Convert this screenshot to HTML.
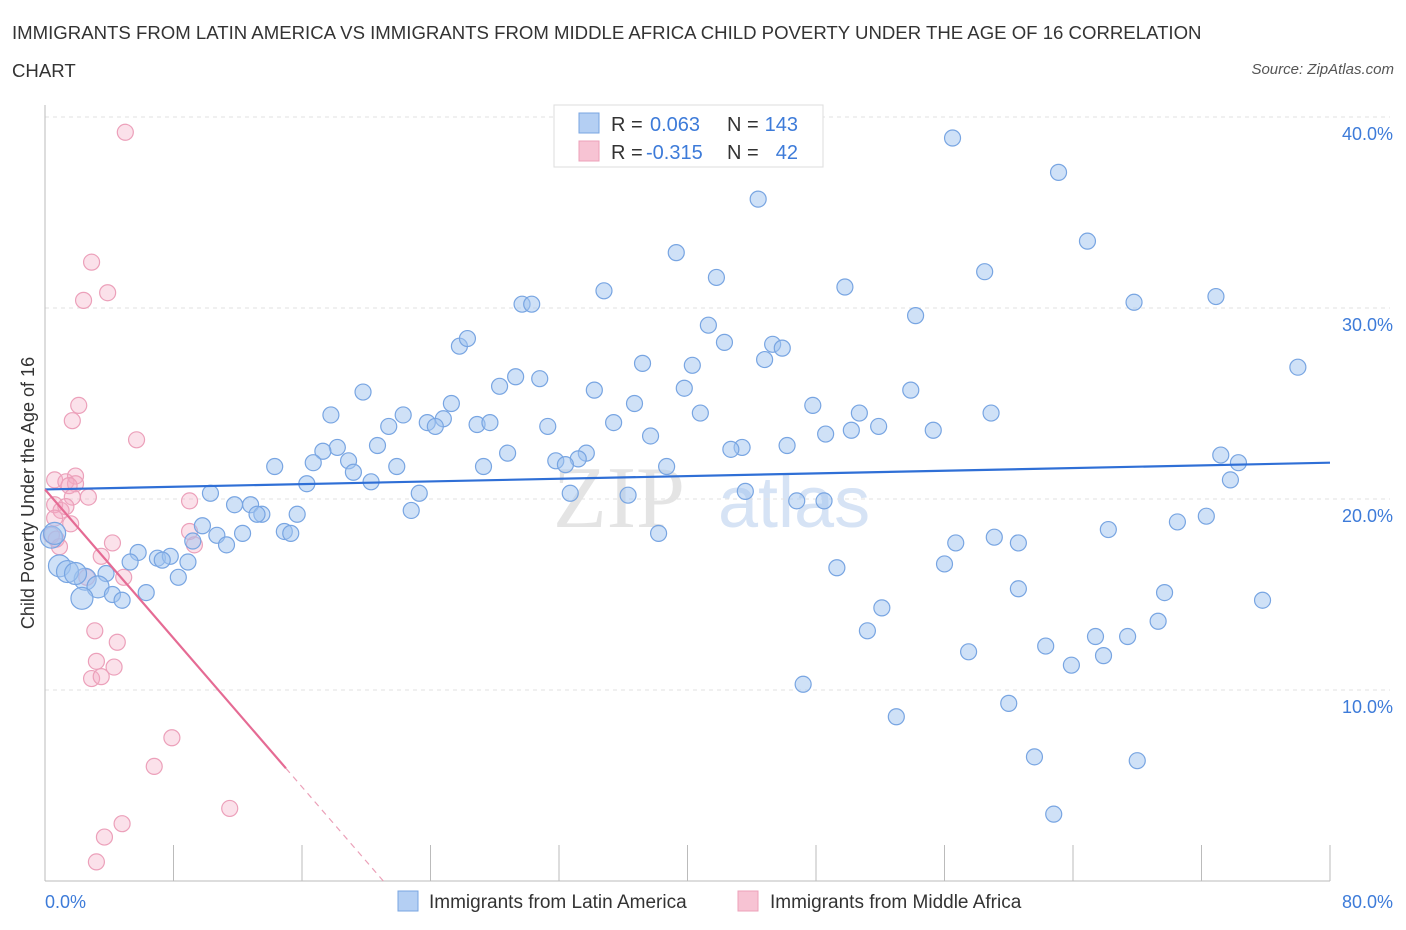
<!DOCTYPE html>
<html><head><meta charset="utf-8">
<style>
body{margin:0;background:#fff;font-family:"Liberation Sans",sans-serif;}
#wrap{position:relative;width:1406px;height:930px;overflow:hidden;}
.title{position:absolute;left:12px;top:14px;font-size:18.6px;color:#333;line-height:38px;width:1200px;}
.source{position:absolute;right:12px;top:61px;font-size:15px;color:#555;font-style:italic;}
</style></head><body>
<div id="wrap">
<div class="title">IMMIGRANTS FROM LATIN AMERICA VS IMMIGRANTS FROM MIDDLE AFRICA CHILD POVERTY UNDER THE AGE OF 16 CORRELATION CHART</div>
<div class="source">Source: ZipAtlas.com</div>
<svg id="chart" width="1406" height="930" style="position:absolute;left:0;top:0"></svg>
</div>
<script>
const yTicks=[10,20,30,40];
const yTickLabels=["10.0%","20.0%","30.0%","40.0%"];
const xTickLabels=["0.0%","80.0%"];
const blueX=[56.5,63.1,44.4,39.3,64.9,41.8,58.5,34.8,49.8,29.7,30.3,67.8,72.9,54.2,41.3,42.3,45.3,45.9,44.8,25.8,26.3,37.2,40.3,78.0,29.3,28.3,30.8,39.8,34.2,53.9,19.8,25.3,36.7,47.8,22.3,17.8,40.8,50.7,58.9,24.8,23.8,21.4,24.3,26.9,27.7,35.4,31.3,51.9,55.3,48.6,50.2,37.7,20.7,18.2,17.3,43.4,42.7,46.2,28.8,18.9,16.7,33.7,33.2,31.8,32.4,14.3,21.9,27.3,38.7,73.2,74.3,19.2,20.3,16.3,73.8,23.3,32.7,43.6,36.3,10.3,11.8,12.8,46.8,48.5,13.5,13.2,15.7,22.8,9.8,70.5,72.3,66.2,14.9,15.3,12.3,10.7,38.2,59.1,60.6,56.7,9.2,11.3,5.8,7.0,7.8,56.0,49.3,5.3,8.9,7.3,3.8,8.3,2.5,60.6,0.9,1.4,1.9,3.3,69.7,6.3,4.2,4.8,2.3,75.8,52.1,69.3,51.2,65.4,67.4,62.3,57.5,65.9,63.9,47.2,60.0,53.0,61.6,68.0,62.8,0.4,0.6];
const blueY=[38.9,37.1,35.7,32.9,33.5,31.6,31.9,30.9,31.1,30.2,30.2,30.3,30.6,29.6,29.1,28.2,28.1,27.9,27.3,28.0,28.4,27.1,27.0,26.9,26.4,25.9,26.3,25.8,25.7,25.7,25.6,25.0,25.0,24.9,24.4,24.4,24.5,24.5,24.5,24.2,24.0,23.8,23.8,23.9,24.0,24.0,23.8,23.8,23.6,23.4,23.6,23.3,22.8,22.7,22.5,22.7,22.6,22.8,22.4,22.0,21.9,22.4,22.1,22.0,21.8,21.7,21.7,21.7,21.7,22.3,21.9,21.4,20.9,20.8,21.0,20.3,20.3,20.4,20.2,20.3,19.7,19.7,19.9,19.9,19.2,19.2,19.2,19.4,18.6,18.8,19.1,18.4,18.3,18.2,18.2,18.1,18.2,18.0,17.7,17.7,17.8,17.6,17.2,16.9,17.0,16.6,16.4,16.7,16.7,16.8,16.1,15.9,15.8,15.3,16.5,16.2,16.1,15.4,15.1,15.1,15.0,14.7,14.8,14.7,14.3,13.6,13.1,12.8,12.8,12.3,12.0,11.8,11.3,10.3,9.3,8.6,6.5,6.3,3.5,18.0,18.2];
const pinkX=[5.0,2.9,3.9,2.4,2.1,1.7,5.7,0.6,1.3,1.9,1.9,1.5,1.7,2.7,9.0,0.6,1.0,1.3,0.6,1.6,0.4,0.7,0.9,4.2,9.0,9.3,3.5,2.6,4.9,3.1,4.5,3.2,4.3,2.9,3.5,7.9,6.8,11.5,4.8,3.7,3.2];
const pinkY=[39.2,32.4,30.8,30.4,24.9,24.1,23.1,21.0,20.9,21.2,20.8,20.7,20.1,20.1,19.9,19.7,19.4,19.6,19.0,18.7,18.1,17.9,17.5,17.7,18.3,17.6,17.0,15.9,15.9,13.1,12.5,11.5,11.2,10.6,10.7,7.5,6.0,3.8,3.0,2.3,1.0];
const blueTrend=[20.5,21.9];
const pinkTrend=[20.5,5.9,15.0];

const X0=45,X1=1330,Y0=881,YT=117;
const sx=v=>X0+(X1-X0)*v/80;
const sy=v=>Y0-(Y0-YT)*v/40;
const svg=document.getElementById('chart');
const NS='http://www.w3.org/2000/svg';
function mk(tag,attrs,parent){const e=document.createElementNS(NS,tag);for(const k in attrs)e.setAttribute(k,attrs[k]);(parent||svg).appendChild(e);return e;}

let wm=mk('text',{x:553,y:527,'font-size':88,'font-family':'Liberation Serif,serif',fill:'#e4e4e4'});wm.textContent='ZIP';


let wm2=mk('text',{x:718,y:527,'font-size':72,'font-family':'Liberation Sans,sans-serif',fill:'#d6e3f5'});wm2.textContent='atlas';



yTicks.forEach((t,i)=>{
  const g=mk('line',{x1:X0,x2:X1+60,y1:sy(t),y2:sy(t),stroke:'#e2e2e2','stroke-dasharray':'4,4'});
  
  
  const l=mk('text',{x:1393,y:sy(t)+23,'text-anchor':'end','font-size':18,fill:'#3d7bd9'});l.textContent=yTickLabels[i];
  
  
});
let ax=mk('line',{x1:X0,x2:X0,y1:105,y2:Y0,stroke:'#bbb'});


let bx=mk('line',{x1:X0,x2:X1,y1:Y0,y2:Y0,stroke:'#bbb'});


for(let i=0;i<=10;i++){const t=mk('line',{x1:sx(i*8),x2:sx(i*8),y1:Y0-36,y2:Y0,stroke:'#bbb'});
  
  }
let xl0=mk('text',{x:45,y:908,'font-size':18,fill:'#3d7bd9'});xl0.textContent=xTickLabels[0];


let xl1=mk('text',{x:1393,y:908,'text-anchor':'end','font-size':18,fill:'#3d7bd9'});xl1.textContent=xTickLabels[1];


let yt=mk('text',{x:0,y:0,'font-size':18,fill:'#333',transform:'translate(34,493) rotate(-90)','text-anchor':'middle'});yt.textContent='Child Poverty Under the Age of 16';



pinkX.forEach((x,i)=>{const c=mk('circle',{cx:sx(x),cy:sy(pinkY[i]),r:8,fill:'rgba(244,170,195,0.35)',stroke:'#eca0ba','stroke-width':1.2});
  
  });
blueX.forEach((x,i)=>{const y=blueY[i];const big=(x<3.5&&y>14.5&&y<18.5);const c=mk('circle',{cx:sx(x),cy:sy(y),r:big?11:8,fill:'rgba(160,195,240,0.5)',stroke:'#78a5e2','stroke-width':1.2});
  
  });

let bt=mk('line',{x1:sx(0),y1:sy(blueTrend[0]),x2:sx(80),y2:sy(blueTrend[1]),stroke:'#2f6fd6','stroke-width':2.2});


const pslope=(pinkTrend[1]-pinkTrend[0])/pinkTrend[2];
const pzero=-pinkTrend[0]/pslope;
let pt=mk('line',{x1:sx(0),y1:sy(pinkTrend[0]),x2:sx(pinkTrend[2]),y2:sy(pinkTrend[1]),stroke:'#e56b94','stroke-width':2.2});


let pd=mk('line',{x1:sx(pinkTrend[2]),y1:sy(pinkTrend[1]),x2:sx(pzero),y2:sy(0),stroke:'#eba0b8','stroke-width':1.2,'stroke-dasharray':'6,5'});



let lg=mk('g',{});


mk('rect',{x:554,y:105,width:269,height:62,fill:'#fff',stroke:'#ddd'},lg);
mk('rect',{x:579,y:113,width:20,height:20,fill:'#b4cff3',stroke:'#78a5e2'},lg);
mk('rect',{x:579,y:141,width:20,height:20,fill:'#f7c3d3',stroke:'#eca0ba'},lg);
function t(x,y,s,c,a){const e=mk('text',{x:x,y:y,'font-size':20,fill:c,'text-anchor':a||'start'},lg);e.textContent=s;return e;}
t(611,131,'R = ','#333');t(650,131,'0.063','#3d7bd9');t(727,131,'N = ','#333');t(798,131,'143','#3d7bd9','end');
t(611,159,'R = ','#333');t(646,159,'-0.315','#3d7bd9');t(727,159,'N = ','#333');t(798,159,'42','#3d7bd9','end');

let bl=mk('g',{});


mk('rect',{x:398,y:891,width:20,height:20,fill:'#b4cff3',stroke:'#78a5e2'},bl);
let b1=mk('text',{x:429,y:908,'font-size':19,fill:'#333'},bl);b1.textContent='Immigrants from Latin America';


mk('rect',{x:738,y:891,width:20,height:20,fill:'#f7c3d3',stroke:'#eca0ba'},bl);
let b2=mk('text',{x:770,y:908,'font-size':19,fill:'#333'},bl);b2.textContent='Immigrants from Middle Africa';


</script>
</body></html>
